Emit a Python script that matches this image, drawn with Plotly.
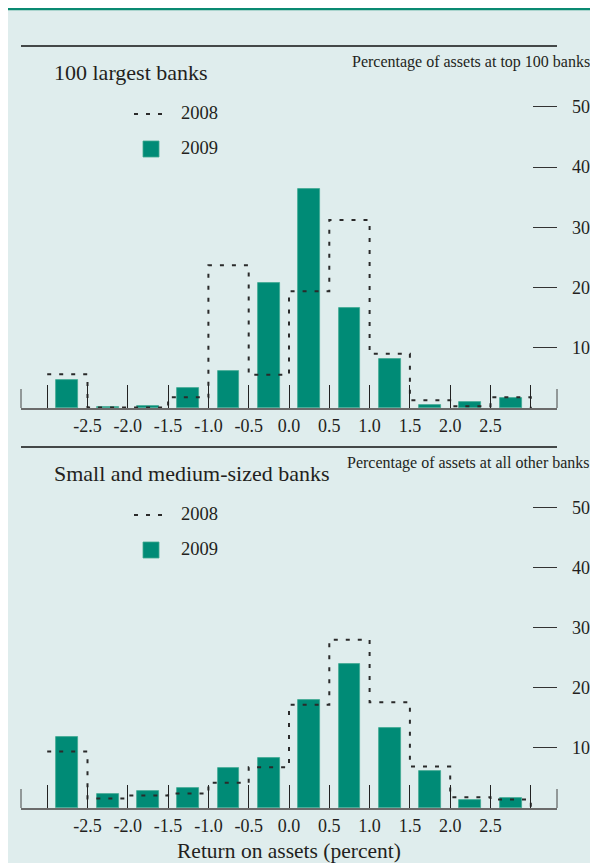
import plotly.graph_objects as go

# ---------------- data ----------------
bin_centers = [-2.75, -2.25, -1.75, -1.25, -0.75, -0.25, 0.25, 0.75, 1.25, 1.75, 2.25, 2.75]
bin_half = 0.25
tick_values = [-3.0, -2.5, -2.0, -1.5, -1.0, -0.5, 0.0, 0.5, 1.0, 1.5, 2.0, 2.5, 3.0]
tick_labels = ["", "-2.5", "-2.0", "-1.5", "-1.0", "-0.5", "0.0", "0.5", "1.0", "1.5", "2.0", "2.5", ""]
y_ticks = [10, 20, 30, 40, 50]

top_2009 = [4.7, 0.2, 0.3, 3.3, 6.2, 20.8, 36.4, 16.6, 8.2, 0.55, 0.95, 1.7]
top_2008 = [5.6, 0.1, 0.1, 1.8, 23.7, 5.5, 19.4, 31.2, 9.0, 1.3, 0.3, 1.8]
bot_2009 = [11.9, 2.4, 2.8, 3.4, 6.6, 8.4, 17.9, 24.0, 13.4, 6.1, 1.4, 1.6]
bot_2008 = [9.4, 1.6, 2.1, 2.4, 4.2, 6.8, 17.2, 28.0, 17.6, 6.9, 1.8, 1.4]

top_title = "100 largest banks"
bot_title = "Small and medium-sized banks"
top_unit = "Percentage of assets at top 100 banks"
bot_unit = "Percentage of assets at all other banks"
x_title = "Return on assets (percent)"
series_names = ["2008", "2009"]

# ---------------- style ----------------
OFF = 8                      # page offset of the figure (body margin)
W, H = 590, 855
ML, MR, MT = 13, 41, 38
MB = H - 800
PW = W - ML - MR
PH = H - MT - MB
BG = "#dfeded"
TEAL = "#008b76"
FONT = "Liberation Serif, Times New Roman, serif"
TXT = "#231f20"

def px_x(p):
    return (p - OFF - ML) / PW

def px_y(p):
    return (H - MB - (p - OFF)) / PH

top_dom = [px_y(408), px_y(46)]
bot_dom = [px_y(808), px_y(447)]
XR = [-3.325, 3.325]
YR = [0, 60.1]

fig = go.Figure()

def step_xy(vals):
    xs = [c - bin_half for c in bin_centers] + [bin_centers[-1] + bin_half]
    ys = list(vals) + [0]
    return xs, ys

for vals09, vals08, xa, ya in [(top_2009, top_2008, "x", "y"), (bot_2009, bot_2008, "x2", "y3")]:
    fig.add_trace(go.Bar(x=bin_centers, y=vals09, width=0.27, xaxis=xa, yaxis=ya,
                         marker=dict(color=TEAL, line=dict(color="#3fa891", width=0.8)),
                         name=series_names[1], showlegend=False))
    sx, sy = step_xy(vals08)
    fig.add_trace(go.Scatter(x=sx, y=sy, mode="lines", line_shape="hv", xaxis=xa, yaxis=ya,
                             line=dict(color="#2a2a2a", width=2, dash="4px,8px"),
                             name=series_names[0], showlegend=False))

xcommon = dict(range=XR, tickmode="array", tickvals=tick_values, ticktext=tick_labels,
               ticks="inside", ticklen=23, tickwidth=1, tickcolor="#222", automargin=False,
               showline=True, linecolor="#6b6b6b", linewidth=2, showgrid=False, zeroline=False,
               tickfont=dict(family=FONT, size=18, color=TXT), fixedrange=True)
ycommon = dict(range=YR, tickmode="array", tickvals=y_ticks, ticks="inside", ticklen=24,
               tickwidth=1, tickcolor="#333", showline=False, showgrid=False, zeroline=False,
               automargin=False,
               tickfont=dict(family=FONT, size=18, color=TXT), fixedrange=True)

fig.update_layout(
    width=W, height=H,
    margin=dict(l=ML, r=MR, t=MT, b=MB, autoexpand=False),
    paper_bgcolor=BG, plot_bgcolor="rgba(0,0,0,0)",
    showlegend=False, bargap=0,
    xaxis=dict(domain=[0, 1], anchor="y", **xcommon),
    yaxis=dict(domain=top_dom, anchor="x", side="right", showticklabels=True,
               ticklabelstandoff=14, **ycommon),
    yaxis2=dict(overlaying="y", anchor="x", side="left", showticklabels=False, **ycommon),
    xaxis2=dict(domain=[0, 1], anchor="y3", **xcommon),
    yaxis3=dict(domain=bot_dom, anchor="x2", side="right", showticklabels=True,
                ticklabelstandoff=14, **ycommon),
    yaxis4=dict(overlaying="y3", anchor="x2", side="left", showticklabels=False, **ycommon),
)

shapes = []
# top teal rule of the figure
shapes.append(dict(type="line", xref="paper", yref="paper", x0=px_x(OFF), x1=px_x(OFF + W),
                   y0=px_y(OFF + 1), y1=px_y(OFF + 1), line=dict(color="#0a8a72", width=2.5)))

annotations = [dict(xref="paper", yref="paper", x=px_x(289), y=px_y(851),
                    xanchor="center", yanchor="middle", showarrow=False, text=x_title,
                    font=dict(family=FONT, size=21.5, color=TXT))]
for (top_py, base_py, title, unit) in [(46, 408, top_title, top_unit), (447, 808, bot_title, bot_unit)]:
    # top rule
    shapes.append(dict(type="line", xref="paper", yref="paper", x0=0, x1=1,
                       y0=px_y(top_py), y1=px_y(top_py), line=dict(color="#111", width=1.5)))
    # end ticks of baseline
    for xe in (0, 1):
        shapes.append(dict(type="line", xref="paper", yref="paper", x0=xe, x1=xe,
                           y0=px_y(base_py), y1=px_y(base_py - 19), line=dict(color="#444", width=1)))
    annotations.append(dict(xref="paper", yref="paper", x=px_x(52), y=px_y(top_py + 26),
                            xanchor="left", yanchor="middle", showarrow=False, text=title,
                            font=dict(family=FONT, size=22, color=TXT)))
    annotations.append(dict(xref="paper", yref="paper", x=px_x(592), y=px_y(top_py + 16),
                            xanchor="right", yanchor="middle", showarrow=False, text=unit,
                            font=dict(family=FONT, size=16, color=TXT)))
    # legend
    ly08 = top_py + 67
    ly09 = top_py + 102
    shapes.append(dict(type="line", xref="paper", yref="paper", x0=px_x(134), x1=px_x(162),
                       y0=px_y(ly08 + 1), y1=px_y(ly08 + 1),
                       line=dict(color="#2a2a2a", width=2, dash="4px,8px")))
    shapes.append(dict(type="rect", xref="paper", yref="paper", x0=px_x(143), x1=px_x(159),
                       y0=px_y(ly09 + 9), y1=px_y(ly09 - 7), fillcolor=TEAL,
                       line=dict(color="#3fa891", width=0.8)))
    annotations.append(dict(xref="paper", yref="paper", x=px_x(179), y=px_y(ly08),
                            xanchor="left", yanchor="middle", showarrow=False, text=series_names[0],
                            font=dict(family=FONT, size=18.5, color=TXT)))
    annotations.append(dict(xref="paper", yref="paper", x=px_x(179), y=px_y(ly09),
                            xanchor="left", yanchor="middle", showarrow=False, text=series_names[1],
                            font=dict(family=FONT, size=18.5, color=TXT)))

fig.update_layout(shapes=shapes, annotations=annotations)
fig.write_html("out.html")
